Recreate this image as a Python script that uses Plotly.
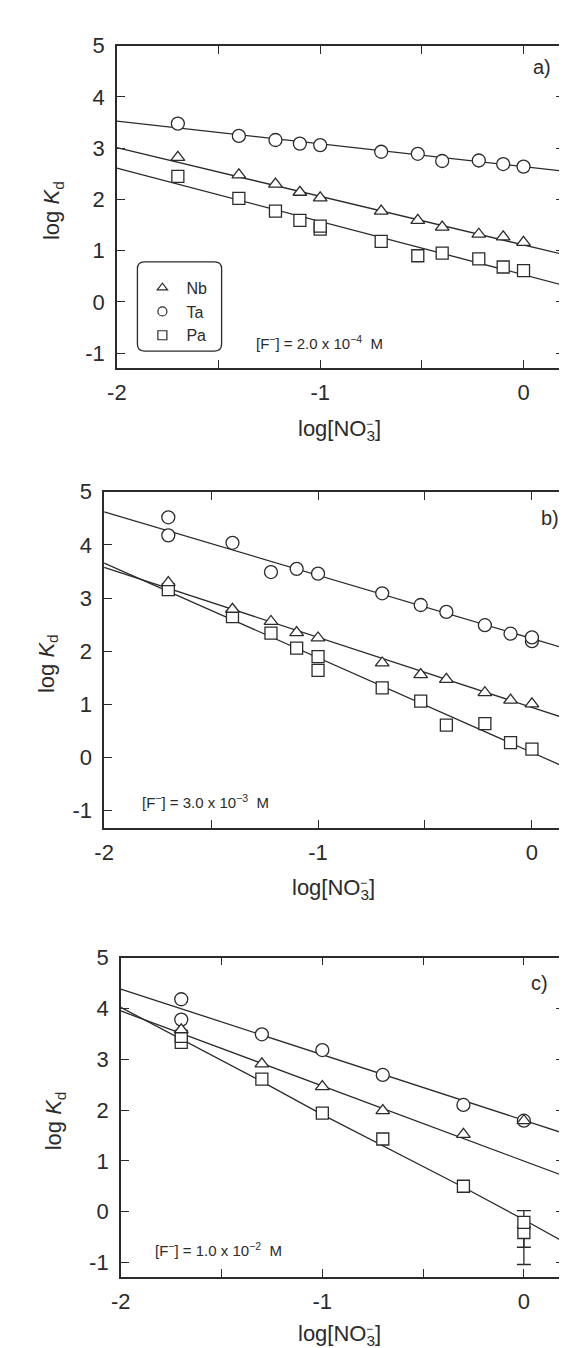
import plotly.graph_objects as go

# ---------------- data ----------------
# panel a)  [F-] = 2.0 x 10^-4 M
a_nb_x = [-1.7, -1.4, -1.22, -1.1, -1.0, -0.7, -0.52, -0.4, -0.22, -0.1, 0.0]
a_nb_y = [2.82, 2.48, 2.30, 2.14, 2.03, 1.77, 1.59, 1.46, 1.32, 1.27, 1.16]
a_ta_x = [-1.7, -1.4, -1.22, -1.1, -1.0, -0.7, -0.52, -0.4, -0.22, -0.1, 0.0]
a_ta_y = [3.48, 3.24, 3.16, 3.09, 3.06, 2.93, 2.89, 2.75, 2.76, 2.69, 2.64]
a_pa_x = [-1.7, -1.4, -1.22, -1.1, -1.0, -1.0, -0.7, -0.52, -0.4, -0.22, -0.1, 0.0]
a_pa_y = [2.45, 2.02, 1.77, 1.59, 1.42, 1.48, 1.18, 0.90, 0.95, 0.84, 0.68, 0.61]
a_fit_x = [-2.0, 0.2]
a_nb_fit = [3.01, 0.92]
a_ta_fit = [3.53, 2.55]
a_pa_fit = [2.61, 0.32]

# panel b)  [F-] = 3.0 x 10^-3 M
b_nb_x = [-1.7, -1.4, -1.22, -1.1, -1.0, -0.7, -0.52, -0.4, -0.22, -0.1, 0.0]
b_nb_y = [3.29, 2.79, 2.56, 2.35, 2.25, 1.78, 1.56, 1.47, 1.22, 1.08, 1.01]
b_ta_x = [-1.7, -1.7, -1.4, -1.22, -1.1, -1.0, -0.7, -0.52, -0.4, -0.22, -0.1, 0.0, 0.0]
b_ta_y = [4.52, 4.18, 4.04, 3.49, 3.55, 3.46, 3.09, 2.87, 2.74, 2.49, 2.33, 2.19, 2.26]
b_pa_x = [-1.7, -1.4, -1.22, -1.1, -1.0, -1.0, -0.7, -0.52, -0.4, -0.22, -0.1, 0.0]
b_pa_y = [3.16, 2.65, 2.34, 2.06, 1.64, 1.90, 1.31, 1.06, 0.61, 0.64, 0.28, 0.16]
b_fit_x = [-2.0, 0.2]
b_nb_fit = [3.58, 0.68]
b_ta_fit = [4.62, 2.00]
b_pa_fit = [3.66, -0.26]

# panel c)  [F-] = 1.0 x 10^-2 M
c_nb_x = [-1.7, -1.3, -1.0, -0.7, -0.3, 0.0]
c_nb_y = [3.58, 2.91, 2.46, 1.99, 1.52, 1.79]
c_ta_x = [-1.7, -1.7, -1.3, -1.0, -0.7, -0.3, 0.0]
c_ta_y = [4.18, 3.78, 3.49, 3.18, 2.69, 2.10, 1.79]
c_pa_x = [-1.7, -1.7, -1.3, -1.0, -0.7, -0.3]
c_pa_y = [3.33, 3.45, 2.61, 1.94, 1.43, 0.50]
c_pa_err_x = [0.0, 0.0]
c_pa_err_y = [-0.41, -0.21]
c_pa_err_plus = [0.10, 0.23]
c_pa_err_minus = [0.63, 0.49]
c_fit_x = [-2.0, 0.2]
c_nb_fit = [3.95, 0.70]
c_ta_fit = [4.38, 1.54]
c_pa_fit_x = [-2.0, -1.7, -1.3, -1.0, -0.7, -0.3, 0.0, 0.2]
c_pa_fit_y = [4.02, 3.40, 2.56, 1.91, 1.30, 0.48, -0.16, -0.60]

x_tickvals = [-2, -1.5, -1, -0.5, 0]
x_ticktext = ["-2", "", "-1", "", "0"]
y_tickvals = [-1, 0, 1, 2, 3, 4, 5]
y_ticktext = ["-1", "0", "1", "2", "3", "4", "5"]
conc_labels = ["[F<sup>−</sup>] = 2.0 x 10<sup>−4</sup>  M",
               "[F<sup>−</sup>] = 3.0 x 10<sup>−3</sup>  M",
               "[F<sup>−</sup>] = 1.0 x 10<sup>−2</sup>  M"]
panel_labels = ["a)", "b)", "c)"]
elements = ["Nb", "Ta", "Pa"]

# ---------------- styling ----------------
W, H = 567, 1348
INK = "#2b2b2b"
FONT = "Liberation Sans, Arial, sans-serif"
symbols = {"Nb": "triangle-up", "Ta": "circle", "Pa": "square"}
sizes = {"Nb": 12, "Ta": 13, "Pa": 12}

fig = go.Figure()


def add_points(x, y, el, n, **kw):
    fig.add_trace(go.Scatter(
        x=x, y=y, mode="markers", showlegend=False, name=el,
        marker=dict(symbol=symbols[el], size=sizes[el], color="white",
                    line=dict(color=INK, width=1.3)),
        xaxis="x" if n == 1 else f"x{n}", yaxis="y" if n == 1 else f"y{n}", **kw))


def add_line(x, y, n):
    fig.add_trace(go.Scatter(
        x=x, y=y, mode="lines", showlegend=False, hoverinfo="skip",
        line=dict(color=INK, width=1.3),
        xaxis="x" if n == 1 else f"x{n}", yaxis="y" if n == 1 else f"y{n}"))


# panel a
add_line(a_fit_x, a_nb_fit, 1)
add_line(a_fit_x, a_ta_fit, 1)
add_line(a_fit_x, a_pa_fit, 1)
add_points(a_pa_x, a_pa_y, "Pa", 1)
add_points(a_ta_x, a_ta_y, "Ta", 1)
add_points(a_nb_x, a_nb_y, "Nb", 1)
# panel b
add_line(b_fit_x, b_nb_fit, 2)
add_line(b_fit_x, b_ta_fit, 2)
add_line(b_fit_x, b_pa_fit, 2)
add_points(b_pa_x, b_pa_y, "Pa", 2)
add_points(b_ta_x, b_ta_y, "Ta", 2)
add_points(b_nb_x, b_nb_y, "Nb", 2)
# panel c
add_line(c_fit_x, c_nb_fit, 3)
add_line(c_fit_x, c_ta_fit, 3)
add_line(c_pa_fit_x, c_pa_fit_y, 3)
add_points(c_pa_err_x, c_pa_err_y, "Pa", 3,
           error_y=dict(type="data", symmetric=False, array=c_pa_err_plus,
                        arrayminus=c_pa_err_minus, color=INK, thickness=1.3, width=7))
add_points(c_pa_x, c_pa_y, "Pa", 3)
add_points(c_ta_x, c_ta_y, "Ta", 3)
add_points(c_nb_x, c_nb_y, "Nb", 3)

# legend-only entries (smaller symbols, as in the original legend)
for el in elements:
    fig.add_trace(go.Scatter(
        x=[None], y=[None], mode="markers", name=el, showlegend=True,
        marker=dict(symbol=symbols[el], size=9, color="white",
                    line=dict(color=INK, width=1.2))))

# ---------------- axes ----------------
def px_x(p):
    return p / W


def px_y(p):
    return 1 - p / H


panels = [
    # (x domain px, y domain px (top,bottom), x range upper, y range lower)
    ((101, 558), (26, 351), 0.2, -1.29),
    ((88, 567), (476, 815), 0.192, -1.32),
    ((105, 558), (946, 1268), 0.2, -1.28),
]

layout = dict(
    width=W, height=H, autosize=False,
    margin=dict(l=0, r=0, t=0, b=0),
    paper_bgcolor="white", plot_bgcolor="white",
    font=dict(family=FONT, color=INK),
    showlegend=True,
    legend=dict(x=px_x(123), y=px_y(253), xanchor="left", yanchor="top",
                bgcolor="rgba(0,0,0,0)", borderwidth=0,
                font=dict(size=16, family=FONT, color=INK),
                itemwidth=38, tracegroupgap=0),
)

annotations = []
shapes = []
for i, ((x0, x1), (yt, yb), xr, yr) in enumerate(panels):
    n = i + 1
    xa = "xaxis" if n == 1 else f"xaxis{n}"
    ya = "yaxis" if n == 1 else f"yaxis{n}"
    common = dict(ticks="inside", ticklen=8, tickwidth=1.3, tickcolor=INK,
                  showline=True, linecolor=INK, linewidth=1.5, mirror="allticks",
                  showgrid=False, zeroline=False,
                  tickfont=dict(size=22, family=FONT, color=INK))
    layout[xa] = dict(domain=[px_x(x0), px_x(x1)], range=[-2, xr],
                      anchor="y" if n == 1 else f"y{n}",
                      tickvals=x_tickvals, ticktext=x_ticktext,
                      ticklabelstandoff=4, **common)
    layout[ya] = dict(domain=[px_y(yb), px_y(yt)], range=[yr, 5],
                      anchor="x" if n == 1 else f"x{n}",
                      tickvals=y_tickvals, ticktext=y_ticktext,
                      ticklabelstandoff=6, **common)

# titles, labels
ylab_x = [36, 30, 38]
xlab_x = [328, 322, 328]
xlab_y = [414, 877, 1327]
conc_pos = [(241, 325), (125, 789), (138, 1241)]
plab_pos = [(535, 47), (543, 502), (533, 972)]
for i, ((x0, x1), (yt, yb), xr, yr) in enumerate(panels):
    annotations.append(dict(
        text="log <i>K</i><sub>d</sub>", textangle=-90, showarrow=False,
        xref="paper", yref="paper", x=px_x(ylab_x[i]), y=px_y((yt + yb) / 2 + 4),
        xanchor="center", yanchor="middle", font=dict(size=22, family=FONT, color=INK)))
    # log[NO3-] with the charge stacked over the subscript 3
    annotations.append(dict(
        text="log[NO<sub>3</sub>]", showarrow=False,
        xref="paper", yref="paper", x=px_x(xlab_x[i]), y=px_y(xlab_y[i]),
        xanchor="center", yanchor="middle", font=dict(size=22, family=FONT, color=INK)))
    annotations.append(dict(
        text="−", showarrow=False,
        xref="paper", yref="paper", x=px_x(xlab_x[i] + 31), y=px_y(xlab_y[i] - 6),
        xanchor="center", yanchor="middle", font=dict(size=12, family=FONT, color=INK)))
    annotations.append(dict(
        text=conc_labels[i], showarrow=False,
        xref="paper", yref="paper", x=px_x(conc_pos[i][0]), y=px_y(conc_pos[i][1]),
        xanchor="left", yanchor="middle", font=dict(size=15, family=FONT, color=INK)))
    annotations.append(dict(
        text=panel_labels[i], showarrow=False,
        xref="paper", yref="paper", x=px_x(plab_pos[i][0]), y=px_y(plab_pos[i][1]),
        xanchor="center", yanchor="middle", font=dict(size=20, family=FONT, color=INK)))

# rounded legend frame
lx0, lx1, ly0, ly1, r = 122, 208, 244, 334, 7
path = (f"M {px_x(lx0 + r)} {px_y(ly0)} L {px_x(lx1 - r)} {px_y(ly0)} "
        f"Q {px_x(lx1)} {px_y(ly0)} {px_x(lx1)} {px_y(ly0 + r)} "
        f"L {px_x(lx1)} {px_y(ly1 - r)} Q {px_x(lx1)} {px_y(ly1)} {px_x(lx1 - r)} {px_y(ly1)} "
        f"L {px_x(lx0 + r)} {px_y(ly1)} Q {px_x(lx0)} {px_y(ly1)} {px_x(lx0)} {px_y(ly1 - r)} "
        f"L {px_x(lx0)} {px_y(ly0 + r)} Q {px_x(lx0)} {px_y(ly0)} {px_x(lx0 + r)} {px_y(ly0)} Z")
shapes.append(dict(type="path", path=path, xref="paper", yref="paper",
                   line=dict(color=INK, width=1.3)))

layout["annotations"] = annotations
layout["shapes"] = shapes
fig.update_layout(**layout)
fig.write_html("out.html")
